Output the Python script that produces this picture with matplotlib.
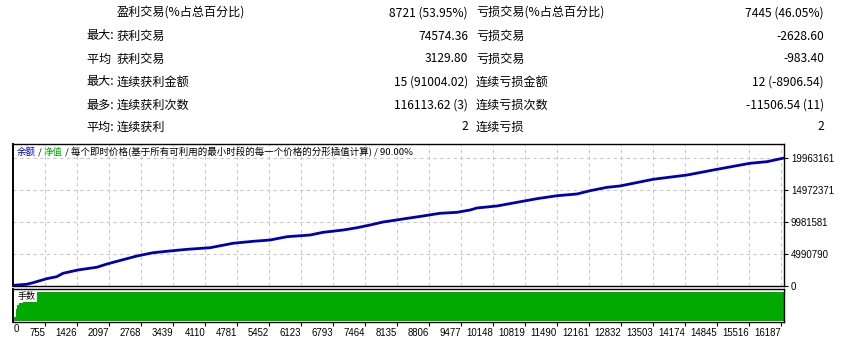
import matplotlib
matplotlib.use("Agg")
import matplotlib.pyplot as plt

CJK = ["Noto Sans CJK SC", "DejaVu Sans"]
NUM = ["Liberation Sans", "DejaVu Sans"]

# -- summary table ------------------------------------------------------------
row_prefix = ["", "最大:", "平均 ", "最大:", "最多:", "平均:"]
win_labels = ["盈利交易(%占总百分比)", "获利交易", "获利交易", "连续获利金额", "连续获利次数", "连续获利"]
win_values = ["8721 (53.95%)", "74574.36", "3129.80", "15 (91004.02)", "116113.62 (3)", "2"]
loss_labels = ["亏损交易(%占总百分比)", "亏损交易", "亏损交易", "连续亏损金额", "连续亏损次数", "连续亏损"]
loss_values = ["7445 (46.05%)", "-2628.60", "-983.40", "12 (-8906.54)", "-11506.54 (11)", "2"]

# -- balance curve: trade number vs balance -------------------------------------
trade_no = [84, 371, 503, 791, 1000, 1132, 1447, 1845, 2055, 2265, 2684, 3020, 3439,
            3733, 4215, 4697, 5117, 5473, 5830, 6312, 6585, 7004, 7298, 7570, 7843,
            8262, 8681, 9038, 9394, 9667, 9814, 10233, 10653, 11072, 11491, 11910,
            12183, 12540, 12812, 13504, 14217, 14846, 15538, 15894, 16250]
balance = [100000, 270000, 510000, 1140000, 1450000, 1980000, 2500000, 2930000,
           3430000, 3850000, 4680000, 5190000, 5510000, 5720000, 5970000, 6660000,
           6970000, 7170000, 7690000, 7950000, 8370000, 8730000, 9090000, 9510000,
           9980000, 10450000, 10920000, 11340000, 11490000, 11850000, 12170000,
           12480000, 13050000, 13620000, 14080000, 14350000, 14860000, 15390000,
           15600000, 16640000, 17310000, 18200000, 19140000, 19390000, 19963161]

# -- lot size per trade ------------------------------------------------------------
lot_trade = [84, 105, 140, 168, 210, 300, 420, 16250]
lots = [5, 7, 20, 27, 32, 40, 50, 50]

x_ticks = [755, 1426, 2097, 2768, 3439, 4110, 4781, 5452, 6123, 6793, 7464, 8135,
           8806, 9477, 10148, 10819, 11490, 12161, 12832, 13503, 14174, 14845,
           15516, 16187]
y_ticks = [0, 4990790, 9981581, 14972371, 19963161]

W, H = 848, 342
fig = plt.figure(figsize=(W / 100, H / 100), dpi=100)


def fx(px):
    return px / W


def fy(py):
    return 1 - py / H


# table text
row_y = [13, 36, 59, 82, 105, 127]
for i, y in enumerate(row_y):
    fs = 8.7
    fig.text(fx(114), fy(y), row_prefix[i], ha="right", va="center", fontsize=fs, family=CJK)
    fig.text(fx(117), fy(y), win_labels[i], ha="left", va="center", fontsize=fs, family=CJK)
    fig.text(fx(468), fy(y), win_values[i], ha="right", va="center", fontsize=fs, family=CJK)
    fig.text(fx(476), fy(y), loss_labels[i], ha="left", va="center", fontsize=fs, family=CJK)
    fig.text(fx(824), fy(y), loss_values[i], ha="right", va="center", fontsize=fs, family=CJK)

x_lo, x_hi = 84, 16250
ax = fig.add_axes([fx(13), fy(286), fx(784) - fx(13), fy(144) - fy(286)])
axv = fig.add_axes([fx(13), fy(322), fx(784) - fx(13), fy(289) - fy(322)])

# balance panel
ax.plot(trade_no, balance, color="#0000b0", lw=2.0, solid_joinstyle="miter", zorder=3)
ax.set_xlim(x_lo, x_hi)
ax.set_ylim(0, 22146600)
ax.set_xticks(x_ticks)
ax.set_xticklabels([])
ax.tick_params(axis="x", length=0)
ax.yaxis.tick_right()
ax.set_yticks(y_ticks)
ax.set_yticklabels([str(v) for v in y_ticks], fontsize=6.9, family=NUM)
ax.tick_params(axis="y", direction="out", length=3, pad=2, width=0.8)
ax.grid(True, color="#c8c8c8", linestyle=(0, (3, 3)), linewidth=0.8, zorder=0)
for s in ax.spines.values():
    s.set_linewidth(1.0)
ax.spines["left"].set_linewidth(1.4)

# legend-like caption, coloured by part
t1 = ax.text(0.005, 0.944, "余额", transform=ax.transAxes, ha="left", va="center",
             fontsize=6.8, family=CJK, color="#0000cc")
t2 = ax.annotate(" / ", xy=(1, 0), xycoords=t1, ha="left", va="bottom",
                 fontsize=6.8, family=CJK, color="black")
t3 = ax.annotate("净值", xy=(1, 0), xycoords=t2, ha="left", va="bottom",
                 fontsize=6.8, family=CJK, color="#00aa00")
ax.annotate(" / 每个即时价格(基于所有可利用的最小时段的每一个价格的分形插值计算) / 90.00%",
            xy=(1, 0), xycoords=t3, ha="left", va="bottom",
            fontsize=6.8, family=CJK, color="black")

# lots panel
axv.fill_between(lot_trade, lots, step="post", color="#00aa00", lw=0)
axv.set_xlim(x_lo, x_hi)
axv.set_ylim(-1.7, 55.5)
axv.set_yticks([])
axv.set_xticks(x_ticks)
axv.set_xticklabels([str(v) for v in x_ticks], fontsize=6.9, family=NUM, ha="right")
axv.tick_params(axis="x", direction="out", length=3, pad=1.5, width=0.8)
for s in axv.spines.values():
    s.set_linewidth(1.0)
axv.spines["left"].set_linewidth(1.4)
axv.text(0.006, 0.9, "手数", transform=axv.transAxes, ha="left", va="top",
         fontsize=6.5, family=CJK,
         bbox=dict(facecolor="white", edgecolor="none", pad=0.8))
fig.text(fx(14), fy(329), "0", ha="left", va="center", fontsize=6.9, family=NUM)

fig.savefig("out.png", dpi=100)
